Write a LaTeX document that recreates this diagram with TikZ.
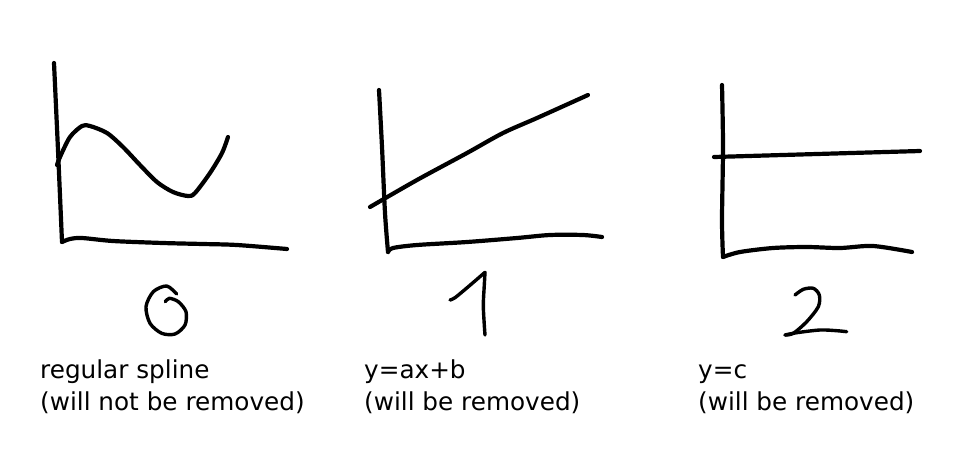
\documentclass[tikz,border=0pt]{standalone}
\usepackage{fontspec}
\setmainfont{DejaVu Sans}
\usetikzlibrary{positioning}
\tikzset{
    pen/.style={line width=4.2pt, line cap=round, line join=round},
    digit/.style={line width=3.4pt, line cap=round, line join=round},
    caption/.style={anchor=base west, align=left, inner sep=0pt,
        font=\fontsize{24.7}{32}\selectfont}
}

\begin{document}
\begin{tikzpicture}[x=1pt, y=-1pt]
    \useasboundingbox (0,0) rectangle (971,453);

    % graph 0: regular spline
    \draw[pen] plot[smooth] coordinates {(54,63) (58,150) (62,242)};
    \draw[pen] plot[smooth] coordinates {(62,242) (70,239) (82,238) (113,241) (163,243) (203,244) (237,245) (287,249)};
    \draw[pen] plot[smooth] coordinates {(57,165) (60,157) (70,137) (82,126) (90,126) (107,133) (123,147) (140,165) (157,182) (173,192) (188,196) (195,193) (210,173) (222,153) (228,137)};
    \draw[digit] plot[smooth] coordinates {(176.7,294) (166.7,286) (153.3,291.7) (146,306.7) (150,323.3) (161.7,333.3) (175,334) (185,325) (186,311.7) (178.3,301.7) (169.3,298.3) (165.3,301.7)};

    % graph 1: y=ax+b
    \draw[pen] plot[smooth] coordinates {(379,90) (382,147) (385,213) (388,252)};
    \draw[pen] plot[smooth] coordinates {(388,252) (393,248) (417,245) (467,242) (517,238) (550,235) (583,235) (602,237)};
    \draw[pen] plot[smooth] coordinates {(370,207) (417,180) (467,153) (503,133) (537,118) (588,95)};
    \draw[digit] plot[smooth] coordinates {(450,300) (455,297.7) (468.3,286.7) (485,272.3)};
    \draw[digit] plot[smooth] coordinates {(485,272.3) (484.3,285) (483.3,305) (484.3,325) (485,335)};

    % graph 2: y=c
    \draw[pen] plot[smooth] coordinates {(722,85) (723,147) (722,220) (723,257)};
    \draw[pen] plot[smooth] coordinates {(723,257) (740,252) (773,248) (807,247) (840,248) (873,246) (912,252)};
    \draw[pen] (714,157) -- (920,151);
    \draw[digit] plot[smooth] coordinates {(795,295) (803.3,289.3) (813.3,288.3) (819.3,295) (818.3,306.7) (806.7,321.7) (793.3,333.3) (785,335)};
    \draw[digit] plot[smooth] coordinates {(785,335) (796.7,332.7) (820,330) (836.7,330.7) (846.7,331.7)};

    % captions
    \node[caption] (cap0) at (40,410) {regular spline\\(will not be removed)};
    \node[caption] (cap1) at (364,410) {y=ax+b\\(will be removed)};
    \node[caption] (cap2) at (698,410) {y=c\\(will be removed)};
\end{tikzpicture}
\end{document}
